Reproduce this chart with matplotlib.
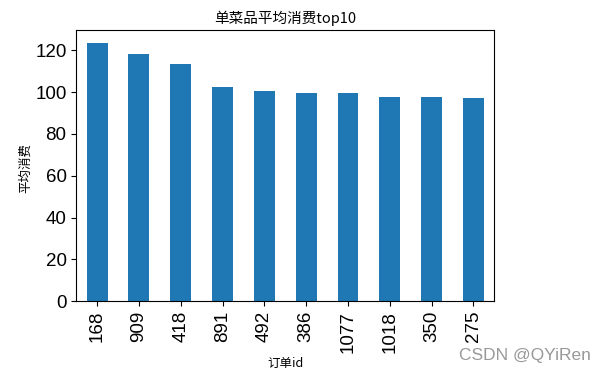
import matplotlib.pyplot as plt
import pandas as pd

order_ids = ['168', '909', '418', '891', '492', '386', '1077', '1018', '350', '275']
avg_spend = [123.5, 118.2, 113.3, 102.6, 100.7, 99.5, 99.5, 97.8, 97.8, 97.2]

plt.rcParams['font.family'] = ['Noto Sans CJK SC', 'DejaVu Sans']

s = pd.Series(avg_spend, index=order_ids)

fig = plt.figure(figsize=(6.05, 3.76), dpi=100)
ax = fig.add_axes([0.126, 0.199, 0.691, 0.721])
s.plot(kind='bar', ax=ax, color='#1f77b4')

ax.set_title('单菜品平均消费top10', fontsize=10.5, pad=5)
ax.set_xlabel('订单id', fontsize=9)
ax.set_ylabel('平均消费', fontsize=9)
ax.xaxis.set_label_coords(0.5, -0.205)
ax.yaxis.set_label_coords(-0.105, 0.49)

tick_font = ['Liberation Sans', 'DejaVu Sans']
for lab in ax.get_xticklabels() + ax.get_yticklabels():
    lab.set_fontsize(13.5)
    lab.set_family(tick_font)
plt.setp(ax.get_xticklabels(), rotation=90)

# watermark
fig.text(0.977, 0.035, 'CSDN @QYiRen', ha='right', va='bottom',
         fontsize=12.5, color='#999999', family=tick_font)

fig.savefig('out.png', dpi=100)
